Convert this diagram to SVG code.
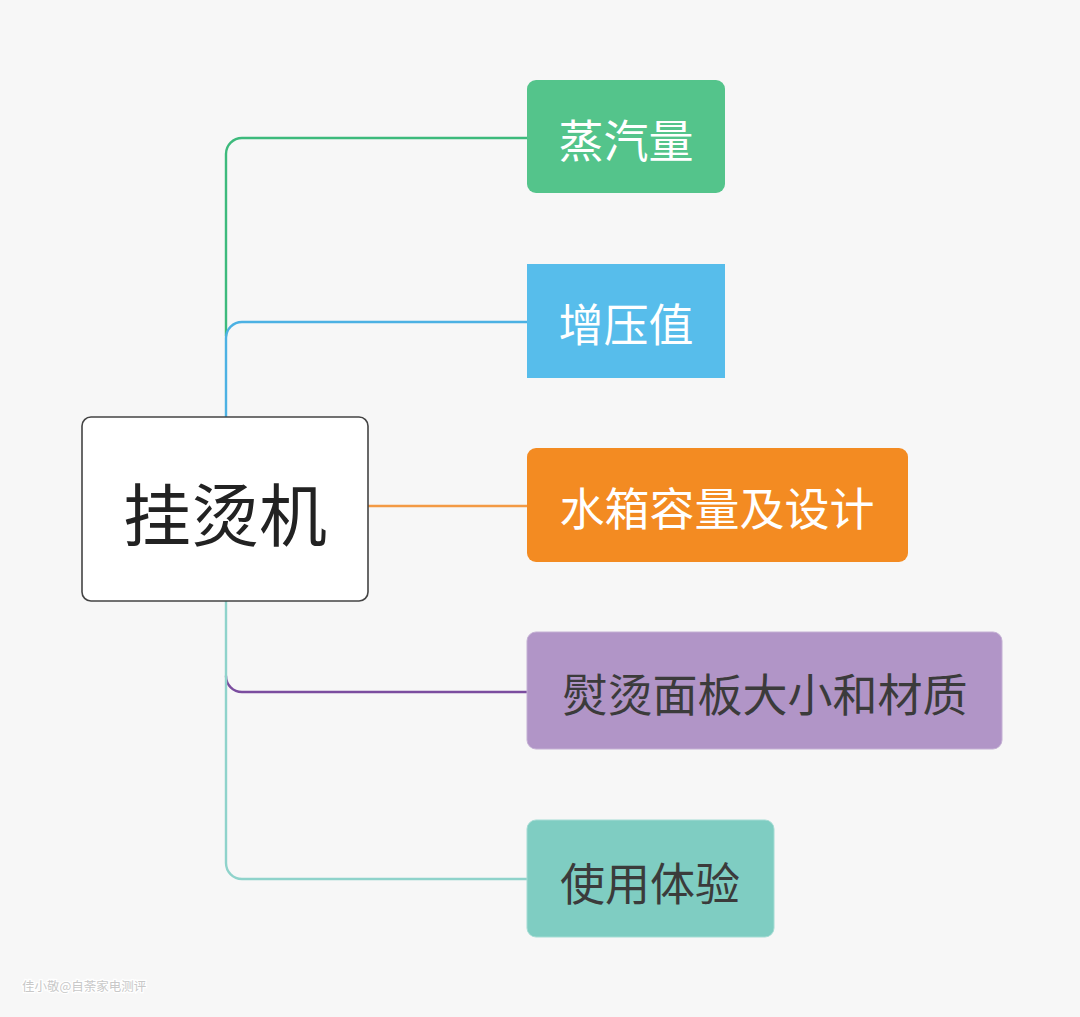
<svg xmlns="http://www.w3.org/2000/svg" width="1080" height="1017" viewBox="0 0 1080 1017">
<style>
.t{font-family:"Noto Sans CJK SC","Noto Sans",sans-serif;text-anchor:middle}
.w{fill:#ffffff;font-size:45px}
.d{fill:#3b3b3b;font-size:45px}
.c{fill:none;stroke-width:2.4;stroke-linecap:round}
</style>
<rect width="1080" height="1017" fill="#f7f7f7"/>
<g id="connectors">
<path class="c" stroke="#3dba7c" d="M226 336 V154 A16 16 0 0 1 242 138 H527"/>
<path class="c" stroke="#4cb1e3" d="M226 417 V338 A16 16 0 0 1 242 322 H527"/>
<path class="c" stroke="#f39a45" d="M368 506 H527"/>
<path class="c" stroke="#7b4d9f" d="M226 676 A16 16 0 0 0 242 692 H527"/>
<path class="c" stroke="#8fd3cb" d="M226 601 V863 A16 16 0 0 0 242 879 H527"/>
</g>
<g id="root">
<rect x="82" y="417" width="286" height="184" rx="9" fill="#ffffff" stroke="#444" stroke-width="1.6"/>
<text class="t" x="225" y="541" font-size="68" fill="#222">挂烫机</text>
</g>
<g id="n1">
<rect x="527" y="80" width="198" height="113" rx="9" fill="#54c48b"/>
<text class="t w" x="626" y="158">蒸汽量</text>
</g>
<g id="n2">
<rect x="527" y="264" width="198" height="114" fill="#57bdeb"/>
<text class="t w" x="626" y="342">增压值</text>
</g>
<g id="n3">
<rect x="527" y="448" width="381" height="114" rx="9" fill="#f38b22"/>
<text class="t w" x="717" y="526">水箱容量及设计</text>
</g>
<g id="n4">
<rect x="527" y="632" width="475" height="117" rx="9" fill="#b195c7" stroke="#c4b0d4" stroke-width="1"/>
<text class="t d" x="765" y="712">熨烫面板大小和材质</text>
</g>
<g id="n5">
<rect x="527" y="820" width="247" height="117" rx="9" fill="#7fcdc2" stroke="#a5dcd4" stroke-width="1"/>
<text class="t d" x="650" y="901">使用体验</text>
</g>
<text x="22" y="991" font-family="Noto Sans CJK SC,sans-serif" font-size="12.5" fill="#c8c8c8" stroke="#ffffff" stroke-width="2.5" paint-order="stroke">佳小敬@自荼家电测评</text>
</svg>
